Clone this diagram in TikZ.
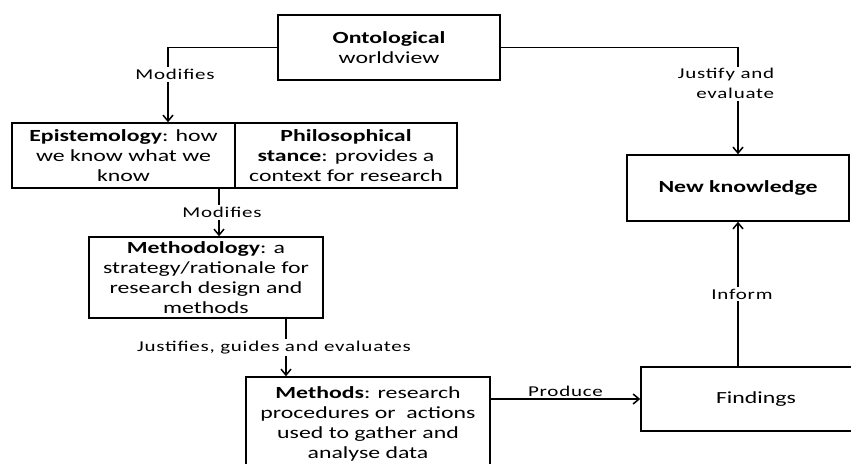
\documentclass[tikz,border=0pt]{standalone}
\usepackage{fontspec}
\setmainfont{Carlito}[FakeStretch=1.4]
\newfontfamily\lblfont{Carlito}[FakeStretch=1.4,LetterSpace=5]
\usetikzlibrary{arrows.meta}

\begin{document}
\begin{tikzpicture}[x=1pt,y=-1pt,
		box/.style={draw,line width=1.5pt,rectangle,inner sep=0pt,align=center,font=\fontsize{17}{20}\selectfont},
		lbl/.style={fill=white,inner sep=2pt,font=\lblfont\fontsize{15}{20}\selectfont},
		arr/.style={line width=1.5pt,-{Straight Barb[length=6pt,width=10pt]}}]
			
			\useasboundingbox (0,0) rectangle (851,463);
			\clip (0,0) rectangle (851,463);
			
			\node[box,minimum width=222,minimum height=65] (onto) at (389,47.5) {\textbf{Ontological}\\worldview};
			\node[box,minimum width=223,minimum height=65] (epis) at (123.5,155.5) {\textbf{Epistemology}: how\\we know what we\\know};
			\node[box,minimum width=222,minimum height=65] (philo) at (346,155.5) {\textbf{Philosophical}\\\textbf{stance}: provides a\\context for research};
			\node[box,minimum width=222,minimum height=66] (newk) at (738,188) {\textbf{New knowledge}};
			\node[box,minimum width=234,minimum height=81] (methy) at (206,277.5) {\textbf{Methodology}: a\\strategy/rationale for\\research design and\\methods};
			\node[box,minimum width=244,minimum height=94] (meths) at (368,424) {\textbf{Methods}: research\\procedures or~ actions\\used to gather and\\analyse data};
			\node[box,minimum width=230,minimum height=64] (find) at (756,399) {Findings};
			
			\draw[arr] (onto.west) -| node[lbl,pos=0.68,xshift=7pt]{Modifies} ([xshift=44.5pt]epis.north);
			\draw[arr] (onto.east) -| node[lbl,pos=0.67,xshift=-12pt,align=right]{Justify and\\evaluate} (newk.north);
			\draw[arr] ([xshift=95.5pt]epis.south) -- node[lbl,xshift=3pt]{Modifies} ([xshift=13pt]methy.north);
			\draw[arr] ([xshift=80pt]methy.south) -- node[lbl,xshift=-12pt]{Justifies, guides and evaluates} ([xshift=-82pt]meths.north);
			\draw[arr] (find.west -| meths.east) -- node[lbl,above,fill=none]{Produce} (find.west);
			\draw[arr] (newk.south |- find.north) -- node[lbl,xshift=4pt]{Inform} (newk.south);
			
		\end{tikzpicture}
\end{document}
